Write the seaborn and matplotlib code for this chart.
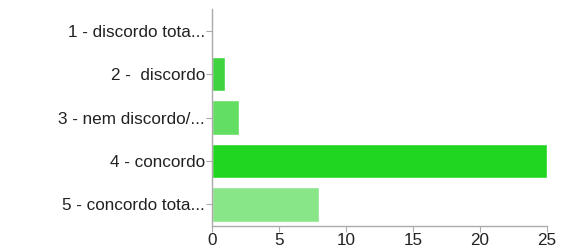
import matplotlib
matplotlib.use("Agg")
import matplotlib.pyplot as plt
import seaborn as sns
import pandas as pd

categories = ["1 - discordo tota...", "2 -  discordo", "3 - nem discordo/...", "4 - concordo", "5 - concordo tota..."]
values = [0, 1, 2, 25, 8]
colors = ["#1fd01f", "#3fd43f", "#62df62", "#21d621", "#88e588"]
xticks = [0, 5, 10, 15, 20, 25]

sns.set_style("white")
plt.rcParams['font.family'] = ['Liberation Sans', 'DejaVu Sans']

df = pd.DataFrame({"cat": categories, "val": values})
fig = plt.figure(figsize=(5.81, 2.5), dpi=100)
ax = fig.add_axes([0.365, 0.096, 0.5765, 0.868])
sns.barplot(data=df, y="cat", x="val", hue="cat", palette=colors, orient="h",
            width=0.8, legend=False, ax=ax, saturation=1)
ax.set_xlim(0, 25)
ax.set_xticks(xticks)
ax.set_xlabel("")
ax.set_ylabel("")
for s in ["top", "right"]:
    ax.spines[s].set_visible(False)
for s in ["left", "bottom"]:
    ax.spines[s].set_color("#aaaaaa")
    ax.spines[s].set_linewidth(1)
ax.tick_params(axis="both", which="both", length=4, color="#aaaaaa", labelsize=12.3,
               labelcolor="#222222", pad=1, left=True, bottom=True)
fig.savefig("out.png", dpi=100)
